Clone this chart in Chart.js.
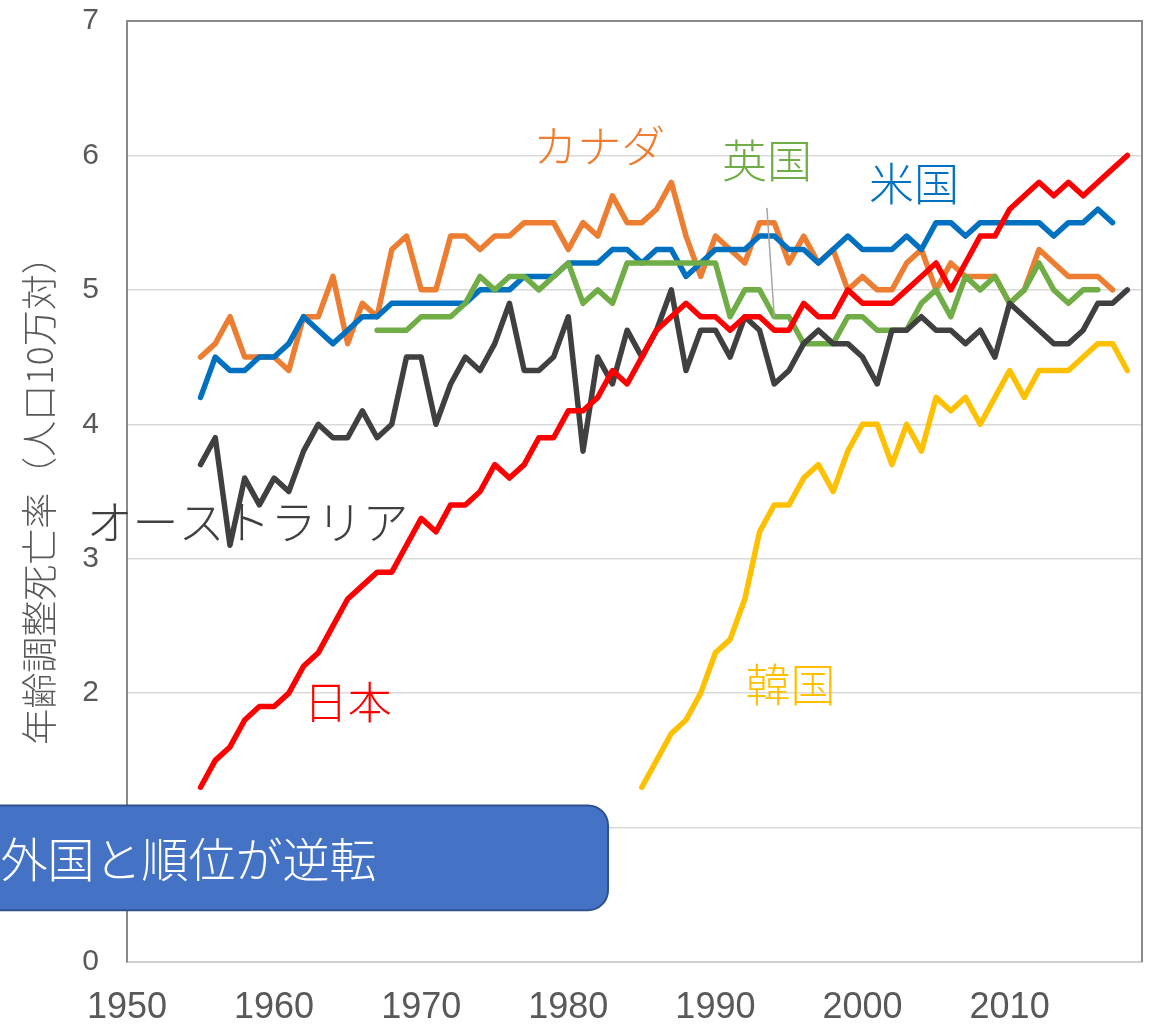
<!DOCTYPE html>
<html><head><meta charset="utf-8">
<script src="https://cdn.jsdelivr.net/npm/chart.js@4.4.1/dist/chart.umd.min.js"></script>
<style>html,body{margin:0;padding:0;background:#fff;overflow:hidden}</style>
</head><body>
<canvas id="c" width="1156" height="1030" style="width:1156px;height:1030px;display:block"></canvas>
<script>
// ---- data (age-adjusted mortality per 100k) ----
const seriesNames = ['日本', '韓国', 'オーストラリア', '英国', '米国', 'カナダ'];
const japanStart = 1955;
const japan = [1.3,1.5,1.6,1.8,1.9,1.9,2.0,2.2,2.3,2.5,2.7,2.8,2.9,2.9,3.1,3.3,3.2,3.4,3.4,3.5,
  3.7,3.6,3.7,3.9,3.9,4.1,4.1,4.2,4.4,4.3,4.5,4.7,4.8,4.9,4.8,4.8,4.7,4.8,4.8,4.7,
  4.7,4.9,4.8,4.8,5.0,4.9,4.9,4.9,5.0,5.1,5.2,5.0,5.2,5.4,5.4,5.6,5.7,5.8,5.7,5.8,
  5.7,5.8,5.9,6.0];
const koreaStart = 1985;
const korea = [1.3,1.5,1.7,1.8,2.0,2.3,2.4,2.7,3.2,3.4,3.4,3.6,3.7,3.5,3.8,4.0,4.0,3.7,4.0,3.8,
  4.2,4.1,4.2,4.0,4.2,4.4,4.2,4.4,4.4,4.4,4.5,4.6,4.6,4.4];
const australiaStart = 1955;
const australia = [3.7,3.9,3.1,3.6,3.4,3.6,3.5,3.8,4.0,3.9,3.9,4.1,3.9,4.0,4.5,4.5,4.0,4.3,4.5,4.4,
  4.6,4.9,4.4,4.4,4.5,4.8,3.8,4.5,4.3,4.7,4.5,4.7,5.0,4.4,4.7,4.7,4.5,4.8,4.7,4.3,
  4.4,4.6,4.7,4.6,4.6,4.5,4.3,4.7,4.7,4.8,4.7,4.7,4.6,4.7,4.5,4.9,4.8,4.7,4.6,4.6,
  4.7,4.9,4.9,5.0];
const ukStart = 1967;
const uk = [4.7,4.7,4.7,4.8,4.8,4.8,4.9,5.1,5.0,5.1,5.1,5.0,5.1,5.2,4.9,5.0,4.9,5.2,5.2,5.2,
  5.2,5.2,5.2,5.2,4.8,5.0,5.0,4.8,4.8,4.6,4.6,4.6,4.8,4.8,4.7,4.7,4.7,4.9,5.0,4.8,
  5.1,5.0,5.1,4.9,5.0,5.2,5.0,4.9,5.0,5.0];
const usStart = 1955;
const us = [4.2,4.5,4.4,4.4,4.5,4.5,4.6,4.8,4.7,4.6,4.7,4.8,4.8,4.9,4.9,4.9,4.9,4.9,4.9,5.0,
  5.0,5.0,5.1,5.1,5.1,5.2,5.2,5.2,5.3,5.3,5.2,5.3,5.3,5.1,5.2,5.3,5.3,5.3,5.4,5.4,
  5.3,5.3,5.2,5.3,5.4,5.3,5.3,5.3,5.4,5.3,5.5,5.5,5.4,5.5,5.5,5.5,5.5,5.5,5.4,5.5,
  5.5,5.6,5.5];
const canadaStart = 1955;
const canada = [4.5,4.6,4.8,4.5,4.5,4.5,4.4,4.8,4.8,5.1,4.6,4.9,4.8,5.3,5.4,5.0,5.0,5.4,5.4,5.3,
  5.4,5.4,5.5,5.5,5.5,5.3,5.5,5.4,5.7,5.5,5.5,5.6,5.8,5.4,5.1,5.4,5.3,5.2,5.5,5.5,
  5.2,5.4,5.2,5.3,5.0,5.1,5.0,5.0,5.2,5.3,5.0,5.2,5.1,5.1,5.1,4.9,5.0,5.3,5.2,5.1,
  5.1,5.1,5.0];
const xTickYears = [1950, 1960, 1970, 1980, 1990, 2000, 2010];
const yTicks = [0, 1, 2, 3, 4, 5, 6, 7];
const yTitle = '年齢調整死亡率（人口10万対）';
const boxText = '外国と順位が逆転';

// ---- styles ----
const colors = {'日本':'#FF0000','韓国':'#FFC000','オーストラリア':'#404040','英国':'#70AD47','米国':'#0070C0','カナダ':'#ED7D31'};
const cjk = "'Noto Sans CJK JP', 'Noto Sans', sans-serif";
const latin = "'Liberation Sans', Arial, sans-serif";
const grayText = '#595959';

// annotation placement (data coordinates)
const seriesLabels = [
  {text:'カナダ', x:1982.1, y:6.07, size:44},
  {text:'英国', x:1993.5, y:5.96, size:45},
  {text:'米国', x:2003.5, y:5.79, size:45},
  {text:'オーストラリア', x:1958.2, y:3.28, size:46},
  {text:'日本', x:1965.0, y:1.93, size:44},
  {text:'韓国', x:1995.1, y:2.06, size:45}
];
const leader = {x1:1993.5, y1:5.61, x2:1994.0, y2:4.80};
const box = {x1:1938, x2:1982.7, y1:1.165, y2:0.385, textX:1941.4};

function pts(start, vals){ return vals.map((v,i)=>({x:start+i, y:v})); }
const seriesData = {
  '日本':pts(japanStart, japan), '韓国':pts(koreaStart, korea), 'オーストラリア':pts(australiaStart, australia),
  '英国':pts(ukStart, uk), '米国':pts(usStart, us), 'カナダ':pts(canadaStart, canada)
};

const framePlugin = {
  id:'frame',
  beforeDatasetsDraw(chart){
    const {ctx, chartArea:a} = chart;
    ctx.save();
    ctx.strokeStyle = '#8a8a8a'; ctx.lineWidth = 2;
    ctx.beginPath();
    ctx.moveTo(a.left, a.top); ctx.lineTo(a.right, a.top); ctx.lineTo(a.right, a.bottom);
    ctx.stroke();
    ctx.restore();
  }
};

const annotationPlugin = {
  id:'annots',
  afterDraw(chart){
    const {ctx} = chart;
    const xs = chart.scales.x, ys = chart.scales.y;
    ctx.save();
    ctx.strokeStyle = '#A6A6A6'; ctx.lineWidth = 1.5;
    ctx.beginPath();
    ctx.moveTo(xs.getPixelForValue(leader.x1), ys.getPixelForValue(leader.y1));
    ctx.lineTo(xs.getPixelForValue(leader.x2), ys.getPixelForValue(leader.y2));
    ctx.stroke();
    ctx.textAlign = 'center'; ctx.textBaseline = 'middle';
    seriesLabels.forEach(l => {
      ctx.font = '300 ' + l.size + 'px ' + cjk;
      ctx.fillStyle = colors[l.text];
      ctx.fillText(l.text, xs.getPixelForValue(l.x), ys.getPixelForValue(l.y));
    });
    const bx1 = xs.getPixelForValue(box.x1), bx2 = xs.getPixelForValue(box.x2);
    const by1 = ys.getPixelForValue(box.y1), by2 = ys.getPixelForValue(box.y2);
    ctx.beginPath();
    ctx.roundRect(bx1, by1, bx2 - bx1, by2 - by1, 20);
    ctx.fillStyle = '#4472C4'; ctx.fill();
    ctx.strokeStyle = '#2F528F'; ctx.lineWidth = 2; ctx.stroke();
    ctx.fillStyle = '#FFFFFF';
    ctx.font = '300 47px ' + cjk;
    ctx.textAlign = 'left'; ctx.textBaseline = 'middle';
    ctx.fillText(boxText, xs.getPixelForValue(box.textX), (by1 + by2) / 2 + 1);
    ctx.restore();
  }
};

const datasets = seriesNames.map(n => ({
  label:n, data:seriesData[n], borderColor:colors[n], backgroundColor:colors[n],
  borderWidth:5.5, pointRadius:0, tension:0, fill:false,
  borderCapStyle:'round', borderJoinStyle:'round'
}));

new Chart(document.getElementById('c'), {
  type:'line',
  data:{datasets},
  options:{
    responsive:false, animation:false, devicePixelRatio:1,
    layout:{padding:{top:21, right:14, left:0, bottom:0}},
    plugins:{legend:{display:false}, tooltip:{enabled:false}},
    scales:{
      x:{
        type:'linear', min:1950, max:2019,
        afterBuildTicks:(s)=>{ s.ticks = xTickYears.map(v=>({value:v})); },
        ticks:{font:{family:latin, size:36}, color:grayText, padding:24, maxRotation:0, autoSkip:false,
          callback:(v)=>String(v)},
        grid:{display:false, drawTicks:false},
        border:{display:true, color:'#D0D0D0', width:2},
        afterFit:(s)=>{ s.height = 68; s.paddingLeft = 0; s.paddingRight = 0; }
      },
      y:{
        min:0, max:7,
        afterBuildTicks:(s)=>{ s.ticks = yTicks.map(v=>({value:v})); },
        ticks:{font:{family:latin, size:30}, color:grayText, padding:28},
        grid:{color:'#D9D9D9', lineWidth:1.5, drawTicks:false},
        border:{display:true, color:'#8a8a8a', width:2},
        title:{display:true, text:yTitle, color:grayText, font:{family:cjk, size:36, weight:'300'}, padding:{top:18, bottom:0}},
        afterFit:(s)=>{ s.width = 127; s.paddingTop = 0; s.paddingBottom = 0; }
      }
    }
  },
  plugins:[framePlugin, annotationPlugin]
});
</script>
</body></html>
